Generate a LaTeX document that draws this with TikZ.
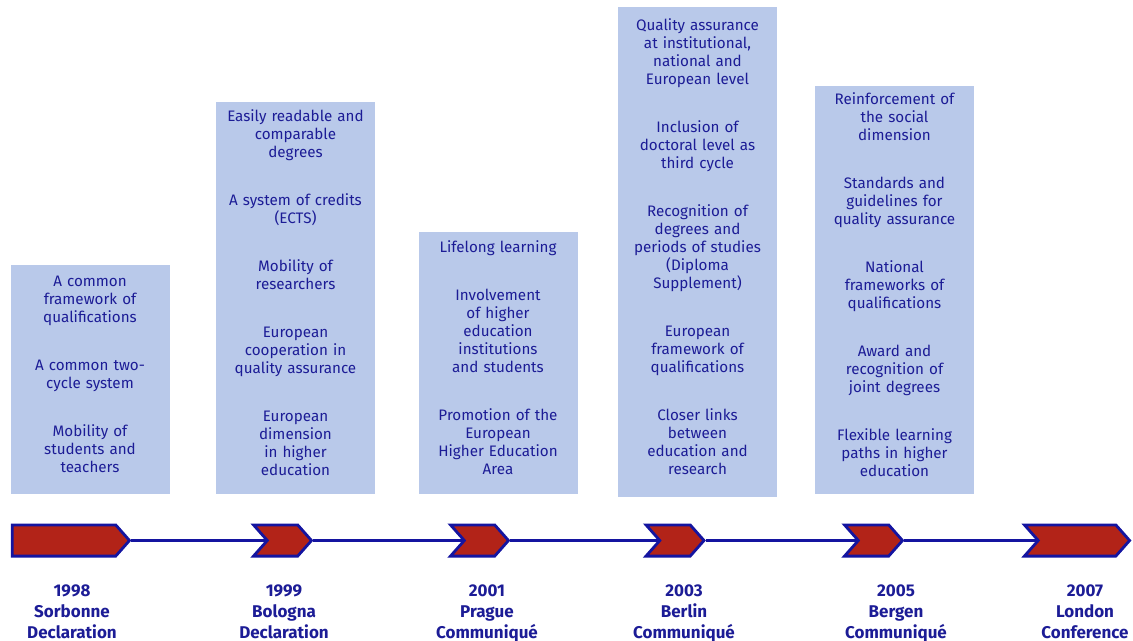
\documentclass[tikz,border=0pt]{standalone}
\usepackage{fontspec}
\setmainfont{Fira Sans}
\usetikzlibrary{positioning,shapes.symbols}
\definecolor{BoxBlue}{HTML}{B9C9EA}
\definecolor{InkBlue}{HTML}{1C1C96}
\definecolor{LineBlue}{HTML}{1414A0}
\definecolor{ArrowRed}{HTML}{B22318}
\newcommand{\lift}{\rule[-5pt]{0pt}{5pt}}
\tikzset{
  goalbox/.style={fill=BoxBlue,text=InkBlue,minimum width=79.5pt,text width=76pt,align=center,inner sep=1pt,font=\fontsize{7.6}{9}\selectfont},
  stage/.style={signal,signal to=east,signal from=west,signal pointer angle=97,draw=LineBlue,line width=1.4pt,fill=ArrowRed,minimum height=15.6pt,minimum width=29pt,inner sep=0pt},
  milestone/.style={text=InkBlue,align=center,anchor=north,font=\bfseries\fontsize{8.5}{10.3}\selectfont},
  link/.style={LineBlue,line width=1.5pt}
}

\begin{document}
\begin{tikzpicture}[x=0.5pt,y=-0.5pt]
\useasboundingbox (0,0) rectangle (1133,641);
% goal boxes
\node[goalbox,minimum height=114.5pt] (sorbonne) at (90,379.5) {A common\\framework of\\qualifications\\[15pt]A common two-\\cycle system\\[15pt]Mobility of\\students and\\teachers\lift};
\node[goalbox,minimum height=196pt] (bologna) at (295.5,298) {Easily readable and\\comparable\\degrees\\[15pt]A system of credits\\(ECTS)\\[15pt]Mobility of\\researchers\\[15pt]European\\cooperation in\\quality assurance\\[15pt]European\\dimension\\in higher\\education\lift};
\node[goalbox,minimum height=131pt] (prague) at (498,363) {Lifelong learning\\[15pt]Involvement\\of higher\\education\\institutions\\and students\\[15pt]Promotion of the\\European\\Higher Education\\Area\lift};
\node[goalbox,minimum height=245pt] (berlin) at (697.5,252) {Quality assurance\\at institutional,\\national and\\European level\\[15pt]Inclusion of\\doctoral level as\\third cycle\\[15pt]Recognition of\\degrees and\\periods of studies\\(Diploma\\Supplement)\\[15pt]European\\framework of\\qualifications\\[15pt]Closer links\\between\\education and\\research\lift};
\node[goalbox,minimum height=204pt] (bergen) at (894.5,290) {Reinforcement of\\the social\\dimension\\[15pt]Standards and\\guidelines for\\quality assurance\\[15pt]National\\frameworks of\\qualifications\\[15pt]Award and\\recognition of\\joint degrees\\[15pt]Flexible learning\\paths in higher\\education\lift};
% timeline
\node[stage,signal from=nowhere,minimum width=58.6pt] (c1) at (64,540.5) {};
\node[stage] (c2) at (282.5,540.5) {};
\node[stage] (c3) at (479.5,540.5) {};
\node[stage] (c4) at (675,540.5) {};
\node[stage] (c5) at (873.5,540.5) {};
\node[stage,minimum width=52.6pt] (c6) at (1077,540.5) {};
\draw[link] (c1.east) -- (c2.west);
\draw[link] (c2.east) -- (c3.west);
\draw[link] (c3.east) -- (c4.west);
\draw[link] (c4.east) -- (c5.west);
\draw[link] (c5.east) -- (c6.west);
% dates
\node[milestone] (y1) at (72,578) {1998\\Sorbonne\\Declaration};
\node[milestone] (y2) at (284,578) {1999\\Bologna\\Declaration};
\node[milestone] (y3) at (487,578) {2001\\Prague\\Communiqué};
\node[milestone] (y4) at (684,578) {2003\\Berlin\\Communiqué};
\node[milestone] (y5) at (896,578) {2005\\Bergen\\Communiqué};
\node[milestone] (y6) at (1085,578) {2007\\London\\Conference};
\end{tikzpicture}
\end{document}
